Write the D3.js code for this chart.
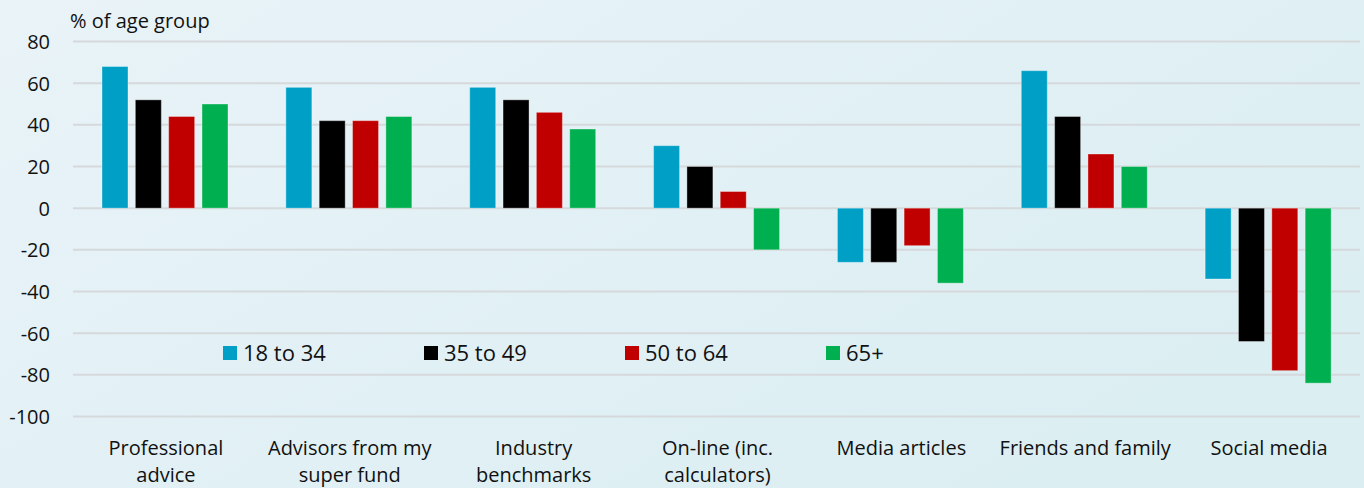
<!DOCTYPE html>
<html>
  <head>
    <meta charset="utf-8">
    <title>Advice sources by age group</title>
    <script src="https://d3js.org/d3.v7.min.js"></script>
    <style>
      body{
        margin: 0;
        background: #e4f0f5;
      }
      svg text{
        font-family: "Open Sans", "Noto Sans", sans-serif;
        fill: #111;
      }
    </style>
  </head>
  <body>
    <div id="container"></div>
    <script>

      // DATA
      const categories = [
        ["Professional", "advice"],
        ["Advisors from my", "super fund"],
        ["Industry", "benchmarks"],
        ["On-line (inc.", "calculators)"],
        ["Media articles"],
        ["Friends and family"],
        ["Social media"]
      ];
      const seriesNames = ["18 to 34", "35 to 49", "50 to 64", "65+"];
      const seriesColors = ["#00a0c6", "#000000", "#c00000", "#00b050"];
      const age18to34 = [68, 58, 58, 30, -26, 66, -34];
      const age35to49 = [52, 42, 52, 20, -26, 44, -64];
      const age50to64 = [44, 42, 46, 8, -18, 26, -78];
      const age65plus = [50, 44, 38, -20, -36, 20, -84];
      const yTicks = [80, 60, 40, 20, 0, -20, -40, -60, -80, -100];
      const yLabel = "% of age group";

      const seriesValues = [age18to34, age35to49, age50to64, age65plus];

      // SIZE
      const width = 1364, height = 488;
      const plotLeft = 73, plotRight = 1360;

      const svg = d3.select("#container")
        .append("svg")
        .attr("width", width)
        .attr("height", height);

      // BACKGROUND GRADIENT
      const grad = svg.append("defs").append("linearGradient")
        .attr("id", "bg")
        .attr("x1", "0%").attr("y1", "0%")
        .attr("x2", "100%").attr("y2", "60%");
      grad.append("stop").attr("offset", "0%").attr("stop-color", "#e9f3f8");
      grad.append("stop").attr("offset", "100%").attr("stop-color", "#dbeef2");
      svg.append("rect")
        .attr("width", width)
        .attr("height", height)
        .attr("fill", "url(#bg)");

      // SCALES
      const catKeys = categories.map(d => d.join(" "));
      const x0 = d3.scaleBand()
        .domain(catKeys)
        .range([plotLeft, plotRight])
        .padding(0);
      const x1 = d3.scaleBand()
        .domain(seriesNames)
        .range([29, 155])
        .paddingInner(0.22);
      const y = d3.scaleLinear()
        .domain([-100, 80])
        .range([416.5, 41.5]);

      // GRIDLINES
      svg.append("g")
        .selectAll("line")
        .data(yTicks)
        .enter()
        .append("line")
        .attr("x1", plotLeft)
        .attr("x2", plotRight)
        .attr("y1", d => y(d))
        .attr("y2", d => y(d))
        .attr("stroke", "#d6d9db")
        .attr("stroke-width", 2);

      // Y AXIS (labels only, plain hyphen for negatives)
      const yAxis = svg.append("g")
        .attr("transform", "translate(50,0)")
        .call(d3.axisLeft(y).tickValues(yTicks).tickSize(0).tickPadding(0).tickFormat(d => String(d)));
      yAxis.select(".domain").remove();
      yAxis.selectAll("text")
        .attr("font-size", 20)
        .attr("font-family", null)
        .attr("dy", "0.35em");

      // Y LABEL
      svg.append("text")
        .attr("x", 70)
        .attr("y", 28)
        .attr("font-size", 20)
        .text(yLabel);

      // BARS
      const groups = svg.append("g")
        .selectAll("g")
        .data(catKeys)
        .enter()
        .append("g")
        .attr("transform", d => "translate(" + x0(d) + ",0)");

      groups.selectAll("rect")
        .data((d, i) => seriesNames.map((s, j) => ({ s: s, v: seriesValues[j][i], c: seriesColors[j] })))
        .enter()
        .append("rect")
        .attr("x", d => x1(d.s))
        .attr("width", x1.bandwidth())
        .attr("y", d => y(Math.max(0, d.v)))
        .attr("height", d => Math.abs(y(d.v) - y(0)))
        .attr("fill", d => d.c)
        .attr("stroke", "rgba(255,255,255,0.35)")
        .attr("stroke-width", 1);

      // CATEGORY LABELS
      const catLabels = svg.append("g")
        .selectAll("text")
        .data(categories)
        .enter()
        .append("text")
        .attr("x", (d, i) => x0(catKeys[i]) + x0.bandwidth() / 2 + 1)
        .attr("y", 455)
        .attr("text-anchor", "middle")
        .attr("font-size", 20);
      catLabels.selectAll("tspan")
        .data(d => d)
        .enter()
        .append("tspan")
        .attr("x", function () { return d3.select(this.parentNode).attr("x"); })
        .attr("dy", (d, i) => i === 0 ? 0 : 27)
        .text(d => d);

      // LEGEND
      const legend = svg.append("g")
        .selectAll("g")
        .data(seriesNames)
        .enter()
        .append("g")
        .attr("transform", (d, i) => "translate(" + (223 + i * 201) + ",346)");
      legend.append("rect")
        .attr("width", 14)
        .attr("height", 14)
        .attr("fill", (d, i) => seriesColors[i]);
      legend.append("text")
        .attr("x", 20)
        .attr("y", 15)
        .attr("font-size", 22)
        .text(d => d);

    </script>
  </body>
</html>
